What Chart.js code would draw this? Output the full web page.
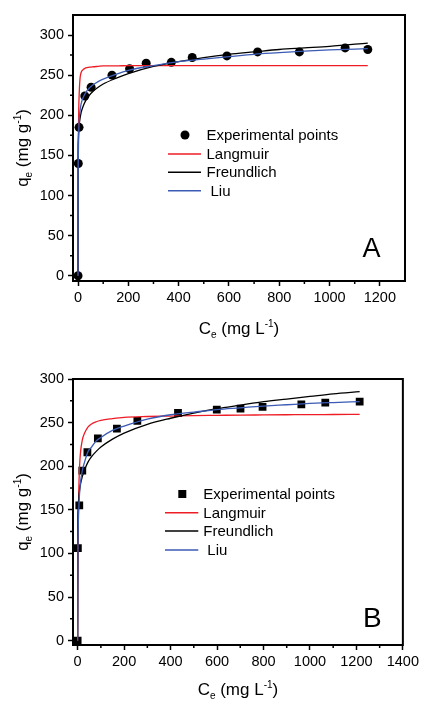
<!DOCTYPE html>
<html><head><meta charset="utf-8">
<script src="https://cdn.jsdelivr.net/npm/chart.js@4/dist/chart.umd.min.js"></script>
<style>
html,body{margin:0;padding:0;background:#fff;}
body{width:422px;height:703px;position:relative;overflow:hidden;}
canvas{position:absolute;left:0;}
</style></head><body>
<canvas id="cA" width="422" height="345" style="top:0px"></canvas>
<canvas id="cB" width="422" height="358" style="top:345px"></canvas>
<script>
// ---------- Panel A data ----------
const expA_C = [0, 1, 4, 27, 52, 135, 205, 271, 371, 454, 592, 714, 880, 1062, 1152];
const expA_q = [0, 140, 185, 224, 235, 250, 258, 265, 266, 272, 274, 279, 279, 284, 282];
const fitA_C = [0, 0.5, 1, 2, 3, 5, 8, 12, 20, 30, 45, 60, 80, 100, 150, 200, 300, 400, 500, 600, 700, 800, 900, 1000, 1152];
const langA  = [0, 110, 150, 190, 210, 230, 246, 253, 257, 259, 260, 260.5, 261, 261.5, 261.5, 262, 262, 262, 262, 262, 262, 262, 262, 262, 262];
const freuA  = [0, 157, 167, 176, 181, 189, 196, 203, 211, 218, 225, 230, 235, 239, 246, 252, 261, 267, 272, 276, 279, 282, 284, 286, 290];
const liuA   = [0, 120, 145, 168, 180, 195, 206, 214, 222, 228, 234, 238, 242, 245, 251, 256, 262, 267, 270, 273, 276, 278, 280, 281.5, 283];

// ---------- Panel B data ----------
const expB_C = [0, 1, 7, 20, 42, 87, 169, 257, 432, 599, 701, 796, 963, 1066, 1214];
const expB_q = [0, 106, 155, 195, 216, 232, 243, 252, 261, 265, 266, 268, 271, 273, 274];
const fitB_C = [0, 1, 2, 3, 5, 8, 12, 20, 30, 45, 60, 80, 100, 150, 200, 300, 400, 500, 600, 700, 800, 900, 1000, 1100, 1214];
const langB  = [0, 75, 115, 143, 174, 198, 215, 230, 238, 245, 248.5, 251, 252.5, 254.5, 256, 257, 257.5, 258, 258.3, 258.6, 258.8, 259, 259.2, 259.3, 259.5];
const freuB  = [0, 140, 150, 156, 164, 172, 179, 188, 196, 205, 211, 217, 222, 231, 238, 248, 255, 261, 266, 270, 274, 277, 280, 283, 285.6];
const liuB   = [0, 100, 122, 136, 152, 168, 181, 195, 205, 217, 222, 229, 233, 241, 246, 254, 259, 262, 265, 267, 269, 270.5, 272, 273, 274];

// ---------- ticks ----------
const xTicksA = [0, 200, 400, 600, 800, 1000, 1200];
const xMinorA = [100, 300, 500, 700, 900, 1100];
const xTicksB = [0, 200, 400, 600, 800, 1000, 1200, 1400];
const xMinorB = [100, 300, 500, 700, 900, 1100, 1300];
const yTicks  = [0, 50, 100, 150, 200, 250, 300];
const yMinor  = [25, 75, 125, 175, 225, 275];

const seriesNames = ['Experimental points', 'Langmuir', 'Freundlich', 'Liu'];
const RED = '#ee1c25', BLACK = '#000000', BLUE = '#3b5bb5';
const FONT = "'Liberation Sans', Arial, Helvetica, sans-serif";

Chart.defaults.font.family = FONT;
Chart.defaults.color = '#000';

function pts(xs, ys){ return xs.map((x,i)=>({x:x, y:ys[i]})); }

function drawRich(ctx, parts, x, y){
  let w = 0;
  parts.forEach(p=>{ ctx.font = p.s + 'px ' + FONT; p.w = ctx.measureText(p.t).width; w += p.w; });
  let cx = x - w/2;
  parts.forEach(p=>{ ctx.font = p.s + 'px ' + FONT; ctx.fillText(p.t, cx, y + (p.dy||0)); cx += p.w; });
}

const decorPlugin = {
  id: 'decor',
  afterDraw(chart, args, o){
    const ctx = chart.ctx, a = chart.chartArea;
    const xs = chart.scales.x, ys = chart.scales.y;
    ctx.save();
    ctx.strokeStyle = '#000'; ctx.lineWidth = 2;
    ctx.strokeRect(a.left, a.top, a.right - a.left, a.bottom - a.top);
    ctx.lineWidth = 1.5; ctx.beginPath();
    o.xMinor.forEach(v=>{ const p = xs.getPixelForValue(v); ctx.moveTo(p, a.bottom); ctx.lineTo(p, a.bottom + 3); });
    o.yMinor.forEach(v=>{ const p = ys.getPixelForValue(v); ctx.moveTo(a.left, p); ctx.lineTo(a.left - 3, p); });
    ctx.stroke();
    ctx.fillStyle = '#000'; ctx.textBaseline = 'alphabetic'; ctx.textAlign = 'left';
    drawRich(ctx, [{t:'C',s:17},{t:'e',s:10,dy:4},{t:' (mg L',s:17},{t:'-1',s:10,dy:-7},{t:')',s:17}],
             (a.left + a.right)/2, a.bottom + o.xTitleDy);
    ctx.save();
    ctx.translate(o.yTitleX, (a.top + a.bottom)/2);
    ctx.rotate(-Math.PI/2);
    drawRich(ctx, [{t:'q',s:17},{t:'e',s:10,dy:4},{t:' (mg g',s:17},{t:'-1',s:10,dy:-7},{t:')',s:17}], 0, 0);
    ctx.restore();
    ctx.font = o.letterSize + 'px ' + FONT;
    ctx.fillText(o.letter, o.letterX, o.letterY);
    const L = o.legend;
    ctx.font = '15px ' + FONT; ctx.textBaseline = 'middle';
    chart.data.datasets.forEach((ds, i)=>{
      const y = L.rows[i];
      if (!ds.showLine) {
        ctx.fillStyle = '#000';
        if (ds.pointStyle === 'rect') {
          const s = L.markSize;
          ctx.fillRect(L.markX - s/2, y - s/2, s, s);
        } else {
          ctx.beginPath(); ctx.arc(L.markX, y, L.markSize/2, 0, Math.PI*2); ctx.fill();
        }
      } else {
        ctx.strokeStyle = ds.borderColor; ctx.lineWidth = 1.5;
        ctx.beginPath(); ctx.moveTo(L.lineX0, y); ctx.lineTo(L.lineX1, y); ctx.stroke();
      }
      ctx.fillStyle = '#000';
      ctx.fillText(ds.label, L.textX + (ds.label === 'Liu' ? 4 : 0), y + 1);
    });
    ctx.restore();
  }
};

function makeChart(id, cfg){
  const datasets = [
    {label: seriesNames[0], data: pts(cfg.expC, cfg.expQ), showLine:false, pointStyle: cfg.pointStyle,
     pointRadius: cfg.pointRadius, backgroundColor:'#000', borderColor:'#000', pointBorderWidth:0, order: 10},
    {label: seriesNames[1], data: pts(cfg.fitC, cfg.lang), showLine:true, pointRadius:0, borderColor:RED, borderWidth:1.3, cubicInterpolationMode:'monotone', order: 3},
    {label: seriesNames[2], data: pts(cfg.fitC, cfg.freu), showLine:true, pointRadius:0, borderColor:BLACK, borderWidth:1.3, cubicInterpolationMode:'monotone', order: 2},
    {label: seriesNames[3], data: pts(cfg.fitC, cfg.liu), showLine:true, pointRadius:0, borderColor:BLUE, borderWidth:1.3, cubicInterpolationMode:'monotone', order: 1}
  ];
  return new Chart(document.getElementById(id), {
    type: 'scatter',
    data: {datasets},
    options: {
      responsive:false, animation:false, devicePixelRatio:1,
      layout: {padding: {top: cfg.padTop, right: 17, left: 0, bottom: 0}},
      plugins: {legend:{display:false}, tooltip:{enabled:false}, decor: cfg.decor},
      scales: {
        x: {type:'linear', min:-20, max:cfg.xMax,
            afterBuildTicks: s=>{ s.ticks = cfg.xTicks.map(v=>({value:v})); },
            afterFit: s=>{ s.height = cfg.xHeight; },
            grid:{drawOnChartArea:false, tickLength:5, tickColor:'#000', tickWidth:1.5},
            border:{color:'#000', width:2},
            ticks:{padding:3, color:'#000', font:{size:14.5}, maxRotation:0, autoSkip:false, callback: v=>String(v)}},
        y: {type:'linear', min:cfg.yMin, max:cfg.yMax,
            afterBuildTicks: s=>{ s.ticks = yTicks.map(v=>({value:v})); },
            afterFit: s=>{ s.width = 73; },
            grid:{drawOnChartArea:false, tickLength:5, tickColor:'#000', tickWidth:1.5},
            border:{color:'#000', width:2},
            ticks:{padding:4, color:'#000', font:{size:14.5}, autoSkip:false, callback: v=>String(v)}}
      }
    },
    plugins: [decorPlugin]
  });
}

makeChart('cA', {
  expC: expA_C, expQ: expA_q, fitC: fitA_C, lang: langA, freu: freuA, liu: liuA,
  pointStyle:'circle', pointRadius:4.5, padTop:15, xHeight:64, xMax:1300, yMin:-6.5, yMax:325, xTicks:xTicksA,
  decor: {xMinor:xMinorA, yMinor:yMinor, xTitleDy:52.5, yTitleX:28, letter:'A', letterSize:27, letterX:362.5, letterY:257,
          legend:{rows:[135,154,172.3,190.7], markX:185, markSize:9, lineX0:168, lineX1:201, textX:206.5}}
});
makeChart('cB', {
  expC: expB_C, expQ: expB_q, fitC: fitB_C, lang: langB, freu: freuB, liu: liuB,
  pointStyle:'rect', pointRadius:5.5, padTop:34, xHeight:58, xMax:1400, yMin:-5, yMax:300, xTicks:xTicksB,
  decor: {xMinor:xMinorB, yMinor:yMinor, xTitleDy:50, yTitleX:28, letter:'B', letterSize:28, letterX:363, letterY:282.3,
          legend:{rows:[149,167.7,186,205], markX:182.3, markSize:8, lineX0:165, lineX1:198.3, textX:203.3}}
});
</script>
</body></html>
